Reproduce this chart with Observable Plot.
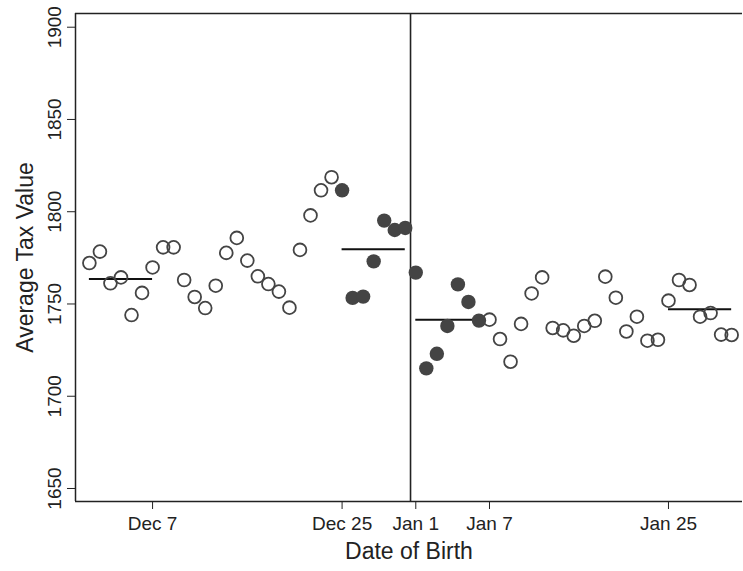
<!DOCTYPE html>
<html><head><meta charset="utf-8">
<script src="https://cdn.jsdelivr.net/npm/d3@7"></script>
<script src="https://cdn.jsdelivr.net/npm/@observablehq/plot@0.6"></script>
<style>body{margin:0;background:#fff}</style>
</head><body><div id="chart"></div>
<script>
// Average tax value by date of birth (Dec 1 – Dec 31, Jan 1 – Jan 31)
const decDays = [1,2,3,4,5,6,7,8,9,10,11,12,13,14,15,16,17,18,19,20,21,22,23,24,25,26,27,28,29,30,31];
const decValues = [1772.2,1778.4,1761.2,1764.4,1744.0,1756.0,1769.8,1780.7,1780.7,1763.0,
  1753.8,1747.8,1759.9,1777.7,1785.8,1773.5,1765.0,1760.8,1756.7,1748.0,
  1779.3,1798.0,1811.6,1818.7,1811.6,1753.3,1754.0,1773.1,1795.2,1790.1,1791.2];
const janDays = [1,2,3,4,5,6,7,8,9,10,11,12,13,14,15,16,17,18,19,20,21,22,23,24,25,26,27,28,29,30,31];
const janValues = [1767.0,1715.1,1723.0,1738.1,1760.6,1751.1,1741.0,1741.5,1731.0,1718.7,
  1739.2,1755.7,1764.4,1737.0,1735.7,1732.8,1738.1,1740.9,1764.8,1753.4,
  1735.1,1743.1,1730.1,1730.6,1751.8,1763.0,1760.3,1743.1,1745.1,1733.4,1733.2];
// highlighted (filled) window: Dec 25 – Jan 7
const filledDecFrom = 25, filledJanTo = 7;

// weekly means shown as horizontal segments (day offsets relative to Jan 1)
const segStart = [-31, -7, 0, 24];
const segEnd   = [-25, -1, 6, 30];
const segValues = [1763.6, 1779.6, 1741.5, 1747.1];

const xTicks = [-25, -7, 0, 7, 24];
const xTickLabels = ["Dec 7", "Dec 25", "Jan 1", "Jan 7", "Jan 25"];
const yTicks = [1650, 1700, 1750, 1800, 1850, 1900];
const cutoff = -0.5;

const points = [
  ...decDays.map((d, i) => ({t: d - 32, v: decValues[i], filled: d >= filledDecFrom})),
  ...janDays.map((d, i) => ({t: d - 1, v: janValues[i], filled: d <= filledJanTo}))
];
const segs = segStart.map((s, i) => ({x1: s, x2: segEnd[i], y: segValues[i]}));

const xDomain = [-32.32, 31.03];
const yDomain = [1642.95, 1907.43];
const ink = "#222";
const dotColor = "#444";
const font = "Liberation Sans, Arial, Helvetica, sans-serif";

const chart = Plot.plot({
  width: 743, height: 571,
  marginLeft: 75, marginTop: 13, marginBottom: 70, marginRight: 1,
  style: {fontFamily: font, background: "#fff", color: ink},
  x: {domain: xDomain, axis: null},
  y: {domain: yDomain, axis: null},
  marks: [
    // frame: left, top, bottom
    Plot.ruleX([xDomain[0]], {stroke: ink, strokeWidth: 1.5}),
    Plot.ruleY([yDomain[0], yDomain[1]], {stroke: ink, strokeWidth: 1.5}),
    // ticks
    Plot.axisX({ticks: xTicks, tickSize: 8, tickFormat: () => "", stroke: ink, strokeWidth: 1}),
    Plot.axisY({ticks: yTicks, tickSize: 8, tickFormat: () => "", stroke: ink, strokeWidth: 1}),
    // tick labels
    Plot.text(xTicks, {x: d => d, frameAnchor: "bottom", text: (d, i) => xTickLabels[i],
      dy: 28.3, lineAnchor: "bottom", fontSize: 19, fill: ink}),
    Plot.text(yTicks, {y: d => d, frameAnchor: "left", text: d => String(d), rotate: -90,
      dx: -15, textAnchor: "middle", lineAnchor: "bottom", fontSize: 19, fill: ink}),
    // axis titles
    Plot.text(["Date of Birth"], {frameAnchor: "bottom", dy: 57, lineAnchor: "bottom",
      fontSize: 23, fill: ink}),
    Plot.text(["Average Tax Value"], {frameAnchor: "left", rotate: -90, dx: -43,
      textAnchor: "middle", lineAnchor: "bottom", fontSize: 23, fill: ink}),
    // cutoff line
    Plot.ruleX([cutoff], {stroke: ink, strokeWidth: 1.6}),
    // weekly means
    Plot.ruleY(segs, {x1: "x1", x2: "x2", y: "y", stroke: "#111", strokeWidth: 2}),
    // points
    Plot.dot(points.filter(d => !d.filled), {x: "t", y: "v", r: 6.4, stroke: dotColor, strokeWidth: 1.8, fill: "none"}),
    Plot.dot(points.filter(d => d.filled), {x: "t", y: "v", r: 7.2, fill: dotColor, stroke: "none"})
  ]
});
document.getElementById("chart").appendChild(chart);
</script>
</body></html>
